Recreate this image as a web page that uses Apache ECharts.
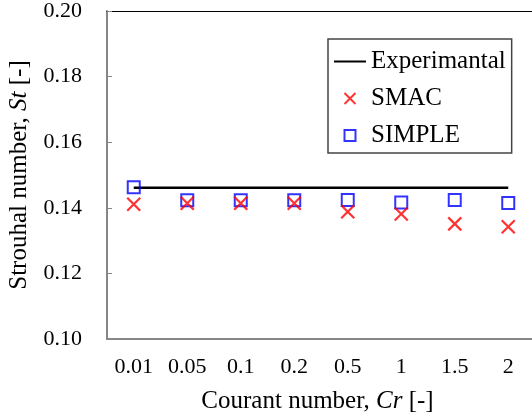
<!DOCTYPE html>
<html>
<head>
<meta charset="utf-8">
<script src="https://cdn.jsdelivr.net/npm/echarts@6/dist/echarts.min.js"></script>
<style>
  html, body { margin: 0; padding: 0; background: #fff; }
  #chart { width: 532px; height: 417px; }
</style>
</head>
<body>
<div id="chart"></div>
<script>
// Courant numbers (category axis)
var categories = ['0.01', '0.05', '0.1', '0.2', '0.5', '1', '1.5', '2'];
// Strouhal numbers
var experimental = [0.1461, 0.1461, 0.1461, 0.1461, 0.1461, 0.1461, 0.1461, 0.1461];
var smac = [0.1411, 0.1414, 0.1414, 0.1414, 0.1388, 0.1381, 0.1351, 0.1342];
var simple = [0.1463, 0.1423, 0.1423, 0.1423, 0.1424, 0.1416, 0.1424, 0.1415];
var yTicks = [0.10, 0.12, 0.14, 0.16, 0.18, 0.20];

var serif = "'Liberation Serif', 'Times New Roman', serif";
var crossPath = 'path://M0,0L10,10M10,0L0,10';
var squarePath = 'path://M0,0L10,0L10,10L0,10Z';
var myChart = echarts.init(document.getElementById('chart'));

var titleRich = {
    n: { fontFamily: serif, fontSize: 25, color: '#000' },
    i: { fontFamily: serif, fontSize: 25, fontStyle: 'italic', color: '#000' }
};

var option = {
    backgroundColor: '#fff',
    animation: false,
    textStyle: { fontFamily: serif, color: '#000' },
    grid: { left: 107, top: 11, width: 428, height: 328, outerBoundsMode: 'none', containLabel: false },
    legend: {
        orient: 'vertical',
        left: 328,
        top: 39,
        padding: [10, 6, 5, 5],
        itemGap: 12,
        itemWidth: 32,
        itemHeight: 11,
        borderColor: '#444',
        borderWidth: 1.5,
        textStyle: { fontFamily: serif, fontSize: 25, color: '#000' },
        data: [
            { name: 'Experimantal', itemStyle: { opacity: 0 } },
            { name: 'SMAC', icon: crossPath },
            { name: 'SIMPLE', icon: squarePath }
        ]
    },
    xAxis: [
        {
            type: 'category',
            data: categories,
            axisLine: { lineStyle: { color: '#868686', width: 2 } },
            axisTick: { inside: true, length: 6, lineStyle: { color: '#868686', width: 1 } },
            axisLabel: { fontFamily: serif, fontSize: 22, color: '#000', margin: 17 },
            name: '{n|Courant number, }{i|Cr}{n| [-]}',
            nameLocation: 'middle',
            nameGap: 50,
            nameTextStyle: { padding: [0, 7, 0, 0], rich: titleRich }
        },
        {
            type: 'category',
            position: 'top',
            data: categories,
            axisLine: { lineStyle: { color: '#000', width: 1.2 } },
            axisTick: { show: false },
            axisLabel: { show: false }
        }
    ],
    yAxis: {
        type: 'value',
        min: yTicks[0],
        max: yTicks[yTicks.length - 1],
        interval: 0.02,
        splitLine: { show: false },
        axisLine: { show: true, lineStyle: { color: '#868686', width: 2 } },
        axisTick: { show: true, inside: true, length: 5, lineStyle: { color: '#868686', width: 1 } },
        axisLabel: {
            fontFamily: serif, fontSize: 22, color: '#000', margin: 25,
            formatter: function (v) { return v.toFixed(2); }
        },
        name: '{n|Strouhal number, }{i|St}{n| [-]}',
        nameLocation: 'middle',
        nameGap: 75,
        nameTextStyle: { rich: titleRich }
    },
    series: [
        {
            name: 'Experimantal',
            type: 'line',
            data: experimental,
            symbol: 'none',
            z: 1,
            lineStyle: { color: '#000', width: 2.5 },
            itemStyle: { color: '#000' }
        },
        {
            name: 'SMAC',
            type: 'scatter',
            data: smac,
            symbol: crossPath,
            symbolSize: 13,
            symbolKeepAspect: true,
            z: 3,
            itemStyle: { color: 'none', borderColor: '#ff0000', borderWidth: 2.2 }
        },
        {
            name: 'SIMPLE',
            type: 'scatter',
            data: simple,
            symbol: squarePath,
            symbolSize: 12,
            symbolKeepAspect: true,
            z: 2,
            itemStyle: { color: 'rgba(0,0,0,0)', borderColor: '#0000ff', borderWidth: 2 }
        }
    ]
};
myChart.setOption(option);
</script>
</body>
</html>
